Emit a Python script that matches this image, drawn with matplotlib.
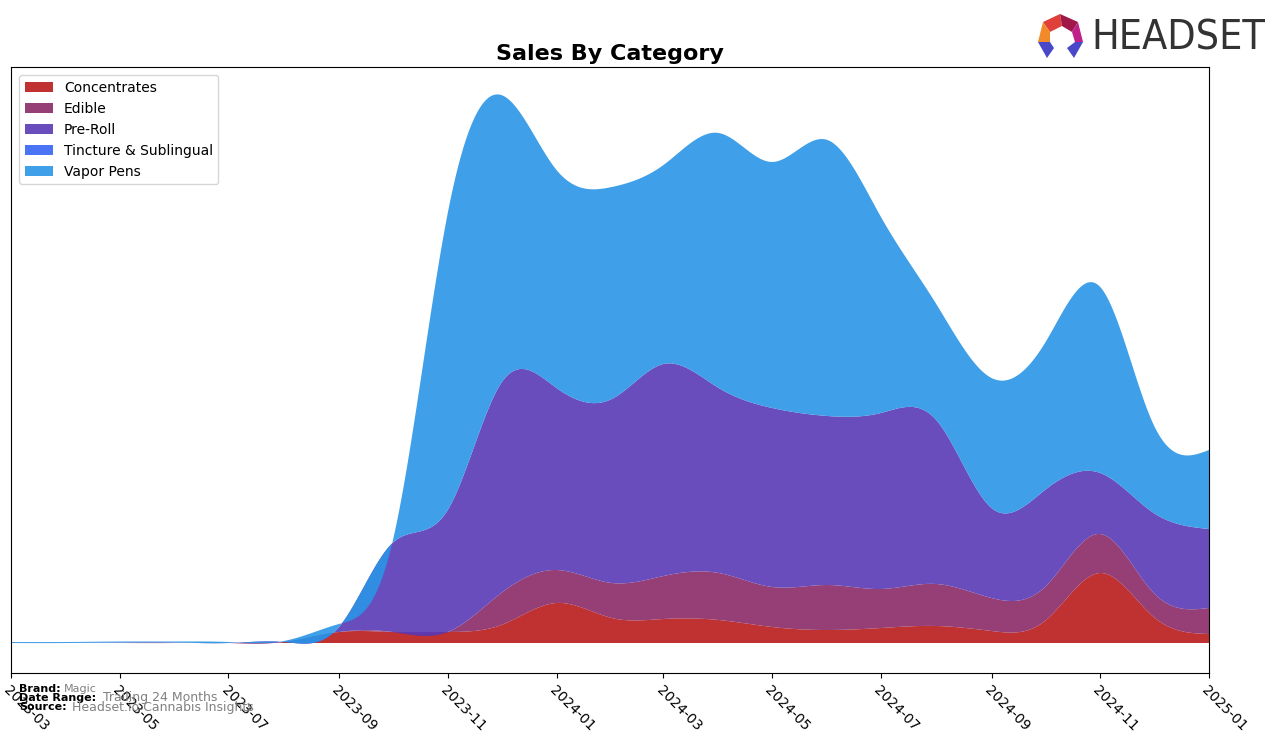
import numpy as np
import pandas as pd
import matplotlib
matplotlib.use('Agg')
import matplotlib.pyplot as plt
import matplotlib.dates as mdates
from matplotlib.patches import Polygon

# Monthly sales by category (relative units)
months = pd.date_range('2023-03-01', '2025-01-01', freq='MS')
categories = ['Concentrates', 'Edible', 'Pre-Roll', 'Tincture & Sublingual', 'Vapor Pens']
concentrates = [0, 0, 0, 0, 0, 1, 11, 11, 11, 18, 40, 25, 24, 23, 16, 13, 15, 17, 12, 22, 70, 26, 9]
edible = [0, 0, 0, 0, 0, 0, 0, 0, 0, 32, 33, 35, 43, 47, 40, 45, 39, 42, 33, 34, 39, 24, 26]
pre_roll = [0, 0, 0.5, 0.5, 0, 0, 5, 89, 122, 210, 182, 184, 212, 185, 179, 169, 176, 164, 90, 97, 61, 80, 79]
tincture = [0] * 23
vapor_pens = [1, 1, 1, 1, 1, 1, 3, 1, 297, 288, 218, 212, 199, 255, 246, 276, 196, 116, 130, 147, 186, 88, 79]

colors = ['#b91b1b', '#8a2a67', '#593ab6', '#3665f4', '#2a95e6']


def natural_spline(x, y, xs):
    # natural cubic spline, used only to smooth the drawn curves
    x = np.asarray(x, float)
    y = np.asarray(y, float)
    n = len(x)
    h = np.diff(x)
    A = np.zeros((n, n))
    r = np.zeros(n)
    A[0, 0] = 1
    A[-1, -1] = 1
    for i in range(1, n - 1):
        A[i, i - 1] = h[i - 1]
        A[i, i] = 2 * (h[i - 1] + h[i])
        A[i, i + 1] = h[i]
        r[i] = 3 * ((y[i + 1] - y[i]) / h[i] - (y[i] - y[i - 1]) / h[i - 1])
    c = np.linalg.solve(A, r)
    b = (y[1:] - y[:-1]) / h - h * (2 * c[:-1] + c[1:]) / 3
    d = (c[1:] - c[:-1]) / (3 * h)
    idx = np.clip(np.searchsorted(x, xs) - 1, 0, n - 2)
    dx = xs - x[idx]
    return y[idx] + b[idx] * dx + c[idx] * dx ** 2 + d[idx] * dx ** 3


xnum = mdates.date2num(months)
xs = np.linspace(xnum[0], xnum[-1], 600)
series = [concentrates, edible, pre_roll, tincture, vapor_pens]
smooth = [natural_spline(xnum, s, xs) for s in series]

fig = plt.figure(figsize=(12.76, 7.43), dpi=100)
ax = fig.add_axes([11 / 1276, 1 - 673 / 743, (1209 - 11) / 1276, (673 - 67) / 743])

ax.stackplot(mdates.num2date(xs), *smooth, labels=categories, colors=colors, alpha=0.9)

ax.set_xlim(months[0], months[-1])
ax.set_ylim(-30, 576)
ax.set_yticks([])
ax.xaxis.set_major_locator(mdates.MonthLocator(interval=2))
ax.xaxis.set_major_formatter(mdates.DateFormatter('%Y-%m'))
plt.setp(ax.xaxis.get_majorticklabels(), rotation=-45, ha='left', va='top',
         rotation_mode='anchor', fontsize=10)
ax.set_title('Sales By Category', fontsize=16, fontweight='bold', pad=5)
ax.legend(loc='upper left', fontsize=10, borderaxespad=0.6)

# footer notes
fig.text(19 / 1276, 1 - 689 / 743, 'Brand:', fontsize=8, fontweight='bold', va='center')
fig.text(64 / 1276, 1 - 689 / 743, 'Magic', fontsize=8, color='gray', va='center')
fig.text(19 / 1276, 1 - 698 / 743, 'Date Range:', fontsize=8, fontweight='bold', va='center')
fig.text(103 / 1276, 1 - 698 / 743, 'Trailing 24 Months', fontsize=9, color='gray', va='center')
fig.text(19 / 1276, 1 - 707 / 743, 'Source:', fontsize=8, fontweight='bold', va='center')
fig.text(72 / 1276, 1 - 707 / 743, 'Headset.io Cannabis Insights', fontsize=9, color='gray', va='center')

# logo
fig.text(1091 / 1276, 1 - 38 / 743, 'HEADSET', fontsize=29.5, color='#333333', va='center',
         family='DejaVu Sans', fontstretch='condensed')


def px(pts):
    return [(u / 1276, 1 - v / 743) for u, v in pts]


logo_parts = [
    ([(1043, 22), (1060, 14), (1062, 26), (1050, 32)], '#e0403a'),
    ([(1060, 14), (1078, 22), (1072, 32), (1062, 26)], '#a01848'),
    ([(1078, 22), (1083, 42), (1075, 42), (1072, 32)], '#c0208a'),
    ([(1043, 22), (1050, 32), (1050, 42), (1038, 42)], '#f08a2a'),
    ([(1038, 42), (1050, 42), (1054, 48), (1047, 58)], '#4848c8'),
    ([(1083, 42), (1075, 42), (1067, 48), (1074, 58)], '#4848c8'),
]
for pts, col in logo_parts:
    fig.patches.append(Polygon(px(pts), closed=True, facecolor=col, edgecolor='none',
                               transform=fig.transFigure, figure=fig))

fig.savefig('out.png', dpi=100)
